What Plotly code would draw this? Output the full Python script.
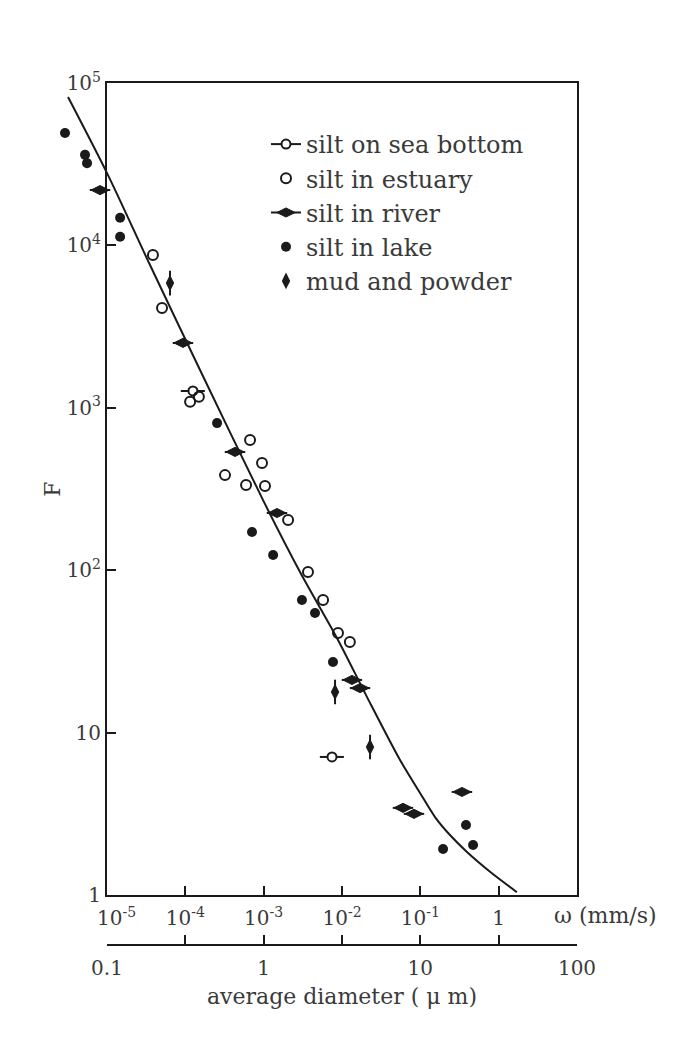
import plotly.graph_objects as go

W, H = 687, 1042

# ---------------- data ----------------
# settling velocity omega (mm/s) and flocculation factor F
sea_omega = [1.25e-4, 7.45e-3]
sea_F = [1270, 7.08]

estuary_omega = [3.86e-5, 5.04e-5, 1.15e-4, 1.49e-4, 6.70e-4, 9.53e-4, 3.21e-4,
                 5.96e-4, 1.04e-3, 2.05e-3, 3.68e-3, 5.73e-3, 8.89e-3, 0.0126]
estuary_F = [8730, 4120, 1090, 1170, 634, 457, 385, 335, 330, 204, 97.5, 65.5, 41.0, 36.1]

river_omega = [8.15e-6, 9.33e-5, 4.31e-4, 1.48e-3, 0.0134, 0.0170, 0.0601, 0.0830, 0.340]
river_F = [21900, 2510, 535, 225, 21.1, 18.8, 3.44, 3.16, 4.31]

lake_omega = [2.91e-6, 5.24e-6, 5.56e-6, 1.47e-5, 1.47e-5, 2.54e-4, 7.10e-4, 1.32e-3,
              3.08e-3, 4.52e-3, 7.67e-3, 0.383, 0.195, 0.471]
lake_F = [49200, 36100, 32100, 14800, 11300, 805, 172, 124, 65.5, 54.5, 27.2, 2.70, 1.92, 2.03]

mud_omega = [6.37e-5, 8.15e-3, 0.0228]
mud_F = [5860, 17.8, 8.15]

curve_omega = [3.18e-6, 1.03e-5, 3.54e-5, 1.54e-4, 9.82e-4, 2.91e-3, 8.89e-3, 0.0208,
               0.0551, 0.0991, 0.154, 0.239, 0.394, 0.776, 1.71]
curve_F = [82000, 27100, 7570, 1710, 270, 97.5, 37.2, 16.6, 6.78, 4.25, 3.02, 2.34,
           1.84, 1.39, 1.04]

# tick labels
omega_ticks = [1e-5, 1e-4, 1e-3, 1e-2, 1e-1, 1]
omega_labels = ["\u00a0\u00a0\u00a010<sup>-5</sup>", "10<sup>-4</sup>",
                "10<sup>-3</sup>", "10<sup>-2</sup>", "10<sup>-1</sup>", "1"]
F_ticks = [1, 10, 100, 1000, 10000, 100000]
F_labels = ["1", "10", "10<sup>2</sup>", "10<sup>3</sup>", "10<sup>4</sup>", "10<sup>5</sup>"]
diam_ticks = [0.1, 1, 10, 100]
diam_labels = ["0.1", "1", "10", "100"]
diam_minor_ticks = [0.316, 3.16, 31.6]

# ---------------- layout helpers ----------------
def px_x(p):
    return p / W

def px_y(p):
    return 1 - p / H

LEFT, RIGHT, TOP, BOTTOM = 107, 577, 83, 895
DEC_X = (RIGHT - LEFT) / 6.0  # pixels per decade of omega

FONT = "DejaVu Serif"
BLACK = "#1a1a1a"
GREY = "#3a3a3a"


def gapped(vals):
    out = []
    for v in vals:
        out += [v, None]
    return out


fig = go.Figure()

# invisible traces that anchor the frame and diameter axes
fig.add_trace(go.Scatter(x=[None], y=[None], xaxis="x", yaxis="y", showlegend=False,
                         hoverinfo="skip"))
fig.add_trace(go.Scatter(x=[None], y=[None], xaxis="x3", yaxis="y", showlegend=False,
                         hoverinfo="skip"))

# fitted curve
fig.add_trace(go.Scatter(x=curve_omega, y=curve_F, mode="lines", xaxis="x2", yaxis="y2",
                         line=dict(color=BLACK, width=2, shape="spline", smoothing=0.8),
                         showlegend=False, hoverinfo="skip"))

bar_x = dict(type="percent", value=42, valueminus=30, color=BLACK, thickness=2, width=0)

fig.add_trace(go.Scatter(
    x=gapped(sea_omega), y=gapped(sea_F), mode="lines+markers", name="silt on sea bottom",
    xaxis="x2", yaxis="y2", connectgaps=False,
    line=dict(color=BLACK, width=2),
    marker=dict(symbol="circle", size=9, color="white", line=dict(color=BLACK, width=2)),
    error_x=bar_x, cliponaxis=False))

fig.add_trace(go.Scatter(
    x=estuary_omega, y=estuary_F, mode="markers", name="silt in estuary",
    xaxis="x2", yaxis="y2",
    marker=dict(symbol="circle-open", size=10, color=BLACK, line=dict(color=BLACK, width=2)),
    cliponaxis=False))

fig.add_trace(go.Scatter(
    x=gapped(river_omega), y=gapped(river_F), mode="lines+markers", name="silt in river",
    xaxis="x2", yaxis="y2", connectgaps=False,
    line=dict(color=BLACK, width=2),
    marker=dict(symbol="diamond-wide", size=13, color=BLACK, line=dict(color=BLACK, width=1)),
    error_x=dict(type="percent", value=35, valueminus=26, color=BLACK, thickness=2, width=0),
    cliponaxis=False))

fig.add_trace(go.Scatter(
    x=lake_omega, y=lake_F, mode="markers", name="silt in lake",
    xaxis="x2", yaxis="y2",
    marker=dict(symbol="circle", size=10, color=BLACK),
    cliponaxis=False))

fig.add_trace(go.Scatter(
    x=mud_omega, y=mud_F, mode="markers", name="mud and powder",
    xaxis="x2", yaxis="y2",
    marker=dict(symbol="diamond-tall", size=12, color=BLACK),
    error_y=dict(type="percent", value=19, valueminus=16, color=BLACK, thickness=2, width=0),
    cliponaxis=False))

axis_common = dict(type="log", showgrid=False, zeroline=False, showline=True,
                   linecolor=BLACK, linewidth=2, ticks="inside", ticklen=9,
                   tickwidth=2, tickcolor=BLACK, automargin=False,
                   tickfont=dict(family=FONT, size=20, color=GREY))

fig.update_layout(
    width=W, height=H,
    margin=dict(l=0, r=0, t=0, b=0, autoexpand=False),
    paper_bgcolor="white", plot_bgcolor="rgba(0,0,0,0)",
    font=dict(family=FONT, color=GREY),
    xaxis=dict(axis_common, domain=[px_x(LEFT), px_x(RIGHT)], range=[-5, 1], anchor="y",
               mirror=True, tickmode="array", tickvals=omega_ticks, ticktext=omega_labels,
               ticklabelstandoff=4),
    yaxis=dict(axis_common, domain=[px_y(BOTTOM), px_y(TOP)], range=[0, 5], anchor="x",
               mirror=True, tickmode="array", tickvals=F_ticks, ticktext=F_labels,
               title=dict(text="F", font=dict(family=FONT, size=22, color=GREY),
                          standoff=0)),
    xaxis2=dict(type="log", domain=[px_x(LEFT - DEC_X), px_x(RIGHT)], range=[-6, 1],
                anchor="y2", visible=False, automargin=False),
    yaxis2=dict(type="log", domain=[px_y(BOTTOM), px_y(TOP)], range=[0, 5],
                anchor="x2", visible=False, automargin=False),
    xaxis3=dict(axis_common, domain=[px_x(LEFT), px_x(RIGHT)], range=[-1, 2],
                anchor="free", position=px_y(945), overlaying="x", side="bottom",
                tickmode="array", tickvals=diam_ticks, ticktext=diam_labels,
                minor=dict(tickmode="array", tickvals=diam_minor_ticks, ticks="inside",
                           ticklen=9, tickwidth=2, tickcolor=BLACK, showgrid=False),
                ticklabelstandoff=5,
                title=dict(text="average diameter ( μ m)",
                           font=dict(family=FONT, size=22, color=GREY), standoff=9)),
    legend=dict(x=px_x(266), y=px_y(122), xanchor="left", yanchor="top",
                bgcolor="rgba(0,0,0,0)", font=dict(family=FONT, size=24, color=GREY),
                traceorder="normal", itemwidth=30),
    annotations=[dict(text="ω (mm/s)", x=px_x(552), y=px_y(915), xref="paper",
                      yref="paper", xanchor="left", yanchor="middle", showarrow=False,
                      font=dict(family=FONT, size=22, color=GREY))],
)

fig.write_html("out.html")
